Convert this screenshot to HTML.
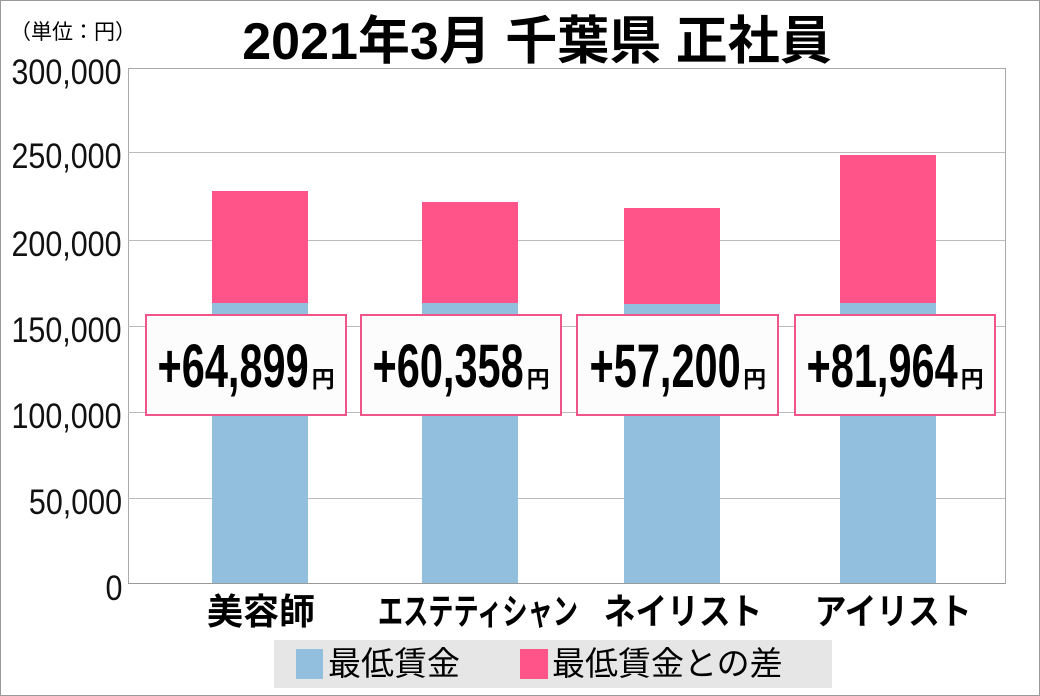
<!DOCTYPE html>
<html><head><meta charset="utf-8"><style>
body{margin:0;width:1040px;height:696px;background:#fff;position:relative;overflow:hidden;font-family:"Liberation Sans","Noto Sans CJK JP",sans-serif;}
.a{position:absolute}
.frame{left:0;top:0;width:1038px;height:694px;border:1px solid #999}
.yl{right:918px;font-size:35px;color:#111;text-align:right;line-height:30px;transform:scaleX(0.87);transform-origin:right center}
.g{left:128px;width:877px;height:1px;background:#bbb}
.bar{width:96px}
.lab{top:314px;border:2px solid #f0558a;background:#fcfcfc;box-sizing:border-box;height:102px;text-align:center;line-height:100px;font-weight:bold;white-space:nowrap}
.lab span.n{display:inline-block;font-size:61px;transform:scaleX(0.68);transform-origin:center;margin:0 -35px}
.lab span.y{font-size:23px;margin-left:2px}
.cat{top:590px;font-size:36px;font-weight:bold;text-align:center;white-space:nowrap;line-height:44px}
</style></head><body>
<div class="a frame"></div>
<div class="a" style="left:10px;top:16px;font-size:21px;">（単位：円）</div>
<div class="a" style="left:0;width:1074px;top:14px;text-align:center;font-size:52px;font-weight:bold;line-height:56px">2021年3月 千葉県 正社員</div>
<div class="a" style="left:128px;top:68px;width:876px;height:515px;border:1px solid #aaa;border-bottom:none"></div>
<div class="a g" style="top:152px"></div>
<div class="a g" style="top:240px"></div>
<div class="a g" style="top:326px"></div>
<div class="a g" style="top:412px"></div>
<div class="a g" style="top:498px"></div>
<div class="a yl" style="top:58px">300,000</div>
<div class="a yl" style="top:142px">250,000</div>
<div class="a yl" style="top:230px">200,000</div>
<div class="a yl" style="top:316px">150,000</div>
<div class="a yl" style="top:402px">100,000</div>
<div class="a yl" style="top:488px">50,000</div>
<div class="a yl" style="top:574px">0</div>
<div class="a bar" style="left:212px;top:191px;height:112px;background:#fe548a"></div>
<div class="a bar" style="left:212px;top:303px;height:281px;background:#93bfdf"></div>
<div class="a bar" style="left:422px;top:202px;height:101px;background:#fe548a"></div>
<div class="a bar" style="left:422px;top:303px;height:281px;background:#93bfdf"></div>
<div class="a bar" style="left:624px;top:208px;height:96px;background:#fe548a"></div>
<div class="a bar" style="left:624px;top:304px;height:280px;background:#93bfdf"></div>
<div class="a bar" style="left:840px;top:155px;height:148px;background:#fe548a"></div>
<div class="a bar" style="left:840px;top:303px;height:281px;background:#93bfdf"></div>
<div class="a" style="left:128px;top:583px;width:877px;height:1px;background:#999"></div>
<div class="a lab" style="left:145px;width:202px"><span class="n">+64,899</span><span class="y">円</span></div>
<div class="a lab" style="left:360px;width:202px"><span class="n">+60,358</span><span class="y">円</span></div>
<div class="a lab" style="left:576px;width:203px"><span class="n">+57,200</span><span class="y">円</span></div>
<div class="a lab" style="left:794px;width:202px"><span class="n">+81,964</span><span class="y">円</span></div>
<div class="a cat" style="left:161px;width:200px">美容師</div>
<div class="a cat" style="left:318px;width:320px"><span style="display:inline-block;transform:scaleX(0.7)">エステティシャン</span></div>
<div class="a cat" style="left:583px;width:200px"><span style="display:inline-block;transform:scaleX(0.88)">ネイリスト</span></div>
<div class="a cat" style="left:793px;width:200px"><span style="display:inline-block;transform:scaleX(0.88)">アイリスト</span></div>
<div class="a" style="left:274px;top:640px;width:558px;height:48px;background:#e6e6e6"></div>
<div class="a" style="left:296px;top:649px;width:27px;height:30px;background:#93bfdf"></div>
<div class="a" style="left:520px;top:649px;width:28px;height:30px;background:#fe548a"></div>
<div class="a" style="left:328px;top:642px;font-size:33px;line-height:44px">最低賃金</div>
<div class="a" style="left:552px;top:642px;font-size:33px;line-height:44px">最低賃金との差</div>
</body></html>
